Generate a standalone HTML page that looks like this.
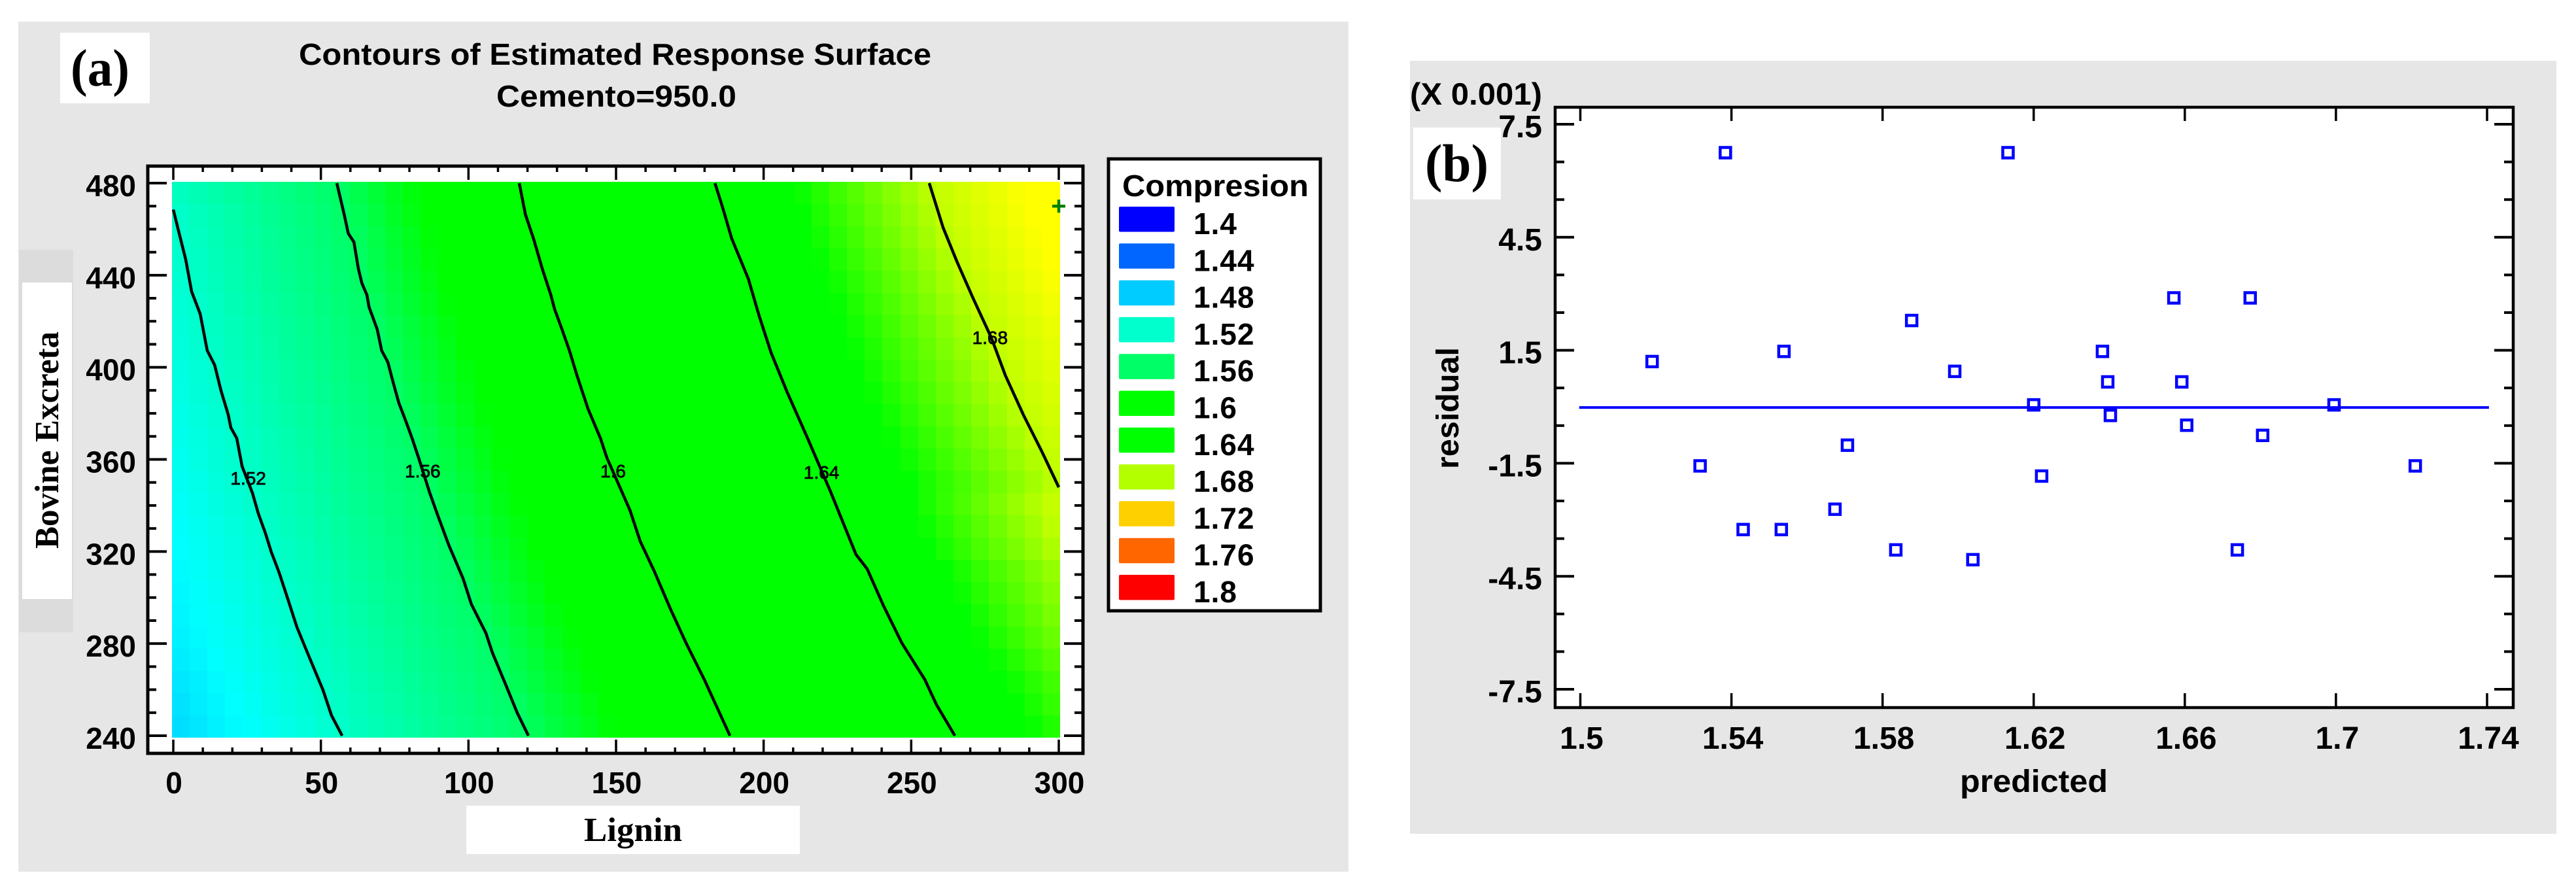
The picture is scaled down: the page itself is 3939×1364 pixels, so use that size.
<!DOCTYPE html>
<html>
<head>
<meta charset="utf-8">
<title>Contours and residual plot</title>
<style>
html,body{margin:0;padding:0;background:#fff;width:3939px;height:1364px;overflow:hidden}
svg{display:block}
text{font-family:"Liberation Sans",Arial,sans-serif;font-weight:bold;fill:#000}
.serif{font-family:"Liberation Serif","Times New Roman",serif}
</style>
</head>
<body>
<svg id="figure" xmlns="http://www.w3.org/2000/svg" width="3939" height="1364" viewBox="0 0 3939 1364">
  <rect x="0" y="0" width="3939" height="1364" fill="#ffffff"/>

  <!-- Panel (a) -->
  <g id="panel-a">
    <rect x="28" y="33" width="2034" height="1300" fill="#e6e6e6"/>
    <rect x="92" y="50" width="137" height="108" fill="#ffffff"/>
    <text class="serif" x="108" y="131" font-size="80" textLength="90" lengthAdjust="spacingAndGlyphs">(a)</text>
    <text x="457" y="99" font-size="46" textLength="967" lengthAdjust="spacingAndGlyphs">Contours of Estimated Response Surface</text>
    <text x="759" y="163" font-size="46" textLength="367" lengthAdjust="spacingAndGlyphs">Cemento=950.0</text>
    <rect x="29" y="382" width="83" height="585" fill="#dcdcdc"/>
    <rect x="34" y="432" width="76" height="484" fill="#ffffff"/>
    <text class="serif" transform="translate(89,839) rotate(-90)" x="0" y="0" font-size="52" textLength="332" lengthAdjust="spacingAndGlyphs">Bovine Excreta</text>
    <rect x="713" y="1232" width="510" height="74" fill="#ffffff"/>
    <text class="serif" x="893" y="1286" font-size="52" textLength="150" lengthAdjust="spacingAndGlyphs">Lignin</text>
    <rect x="226" y="254" width="1430" height="898" fill="#ffffff"/>
    <g id="heatmap" shape-rendering="crispEdges"></g>
    <g id="contours"></g>
    <g id="a-ticks"></g>
    <rect x="226" y="254" width="1430" height="898" fill="none" stroke="#000" stroke-width="5"/>
    <g id="a-labels"></g>
    <g id="legend">
      <rect x="1695" y="243" width="324" height="691" fill="#ffffff" stroke="#000" stroke-width="5"/>
      <text x="1716" y="300" font-size="46" textLength="285" lengthAdjust="spacingAndGlyphs">Compresion</text>
    </g>
  </g>

  <!-- Panel (b) -->
  <g id="panel-b">
    <rect x="2156" y="93" width="1753" height="1182" fill="#e6e6e6"/>
    <rect x="2378" y="164" width="1465" height="918" fill="#ffffff"/>
    <g id="b-ticks"></g>
    <g id="b-zero"></g>
    <g id="b-points"></g>
    <rect x="2378" y="164" width="1465" height="918" fill="none" stroke="#000" stroke-width="4.5"/>
    <g id="b-labels"></g>
    <text x="2156" y="160" font-size="47" textLength="202" lengthAdjust="spacingAndGlyphs">(X 0.001)</text>
    <rect x="2161" y="195" width="134" height="110" fill="#ffffff"/>
    <text class="serif" x="2179" y="277" font-size="82" textLength="97" lengthAdjust="spacingAndGlyphs">(b)</text>
    <text transform="translate(2230,717) rotate(-90)" x="0" y="0" font-size="48" textLength="186" lengthAdjust="spacingAndGlyphs">residual</text>
    <text x="2997" y="1211" font-size="48" textLength="226" lengthAdjust="spacingAndGlyphs">predicted</text>
  </g>
</svg>

<script>
// ---------- Panel (a) data ----------
const ligninTicks = [0, 50, 100, 150, 200, 250, 300];
const bovineTicks = [240, 280, 320, 360, 400, 440, 480];
const contourLevels = [1.52, 1.56, 1.6, 1.64, 1.68];
const contourLabels = ['1.52', '1.56', '1.6', '1.64', '1.68'];
const contourLabelAnchors = [[25.4, 351.9], [84.5, 355], [149, 355], [219.6, 354.4], [276.7, 413]];
const contour152 = [[0,468.5],[2,458.1],[4.2,446.8],[6.2,432.9],[9.1,423.2],[11.5,407.3],[14,401],[16.2,389.7],[18.6,379.5],[19.5,373.8],[21.5,369.2],[23.3,357],[26.8,345.4],[28.8,336.5],[31.2,328],[33.2,319.8],[35.9,310.7],[38.8,299.4],[41.9,287.1],[45.9,274.6],[50.7,259.9],[53.6,248.8],[57.2,240]];
const contour156 = [[55.4,480],[57.8,466.9],[59.3,458.1],[61.2,454.4],[62.7,442.8],[63.9,436.5],[65.6,431.4],[66.3,426.3],[69.1,416.4],[70.6,407.3],[72.7,402.2],[74.5,393.4],[76.4,384.6],[78.7,376.9],[80.9,369.2],[83.1,360.7],[86.9,345.4],[89.7,335.4],[93.3,322.9],[98.2,308.2],[101,297.1],[105.9,284.6],[108.1,276.1],[113,261],[116.5,250],[120.3,240]];
const contour160 = [[117.2,480],[119.3,466.4],[122.1,455.6],[125,442.8],[127.9,431.4],[129.2,425.2],[131.4,417.5],[134.2,407.3],[136.9,395.9],[140.5,382],[144.7,369.2],[146.9,360.7],[150.5,350.2],[154.7,338],[158.2,324.4],[162.9,311.6],[168.3,295.4],[173.7,280.3],[179.9,264.4],[188.6,240]];
const contour164 = [[183.5,480],[186.1,469.5],[189.2,455.9],[194.8,438.5],[198.5,422.3],[202.5,406.4],[208,389.1],[214.9,369.2],[222.7,345.9],[231.3,318.7],[235.1,312.4],[240.6,296.5],[246.8,280.3],[254.6,264.4],[258.6,253.4],[264.8,240]];
const contour168 = [[256.1,480],[260.8,460.7],[265.5,445.9],[271,429.9],[277.2,412.7],[281.9,396.5],[288.1,379.1],[294.3,363.3],[300,347.9]];
const contourSeries = [contour152, contour156, contour160, contour164, contour168];
const legendLevels = ['1.4', '1.44', '1.48', '1.52', '1.56', '1.6', '1.64', '1.68', '1.72', '1.76', '1.8'];
const legendColors = ['#0000ff', '#0066ff', '#00ccff', '#00ffcc', '#00ff66', '#00ff00', '#00ff00', '#b3ff00', '#ffd000', '#ff6600', '#ff0000'];
const colorStopValues = [1.4, 1.44, 1.48, 1.5, 1.52, 1.56, 1.578, 1.654, 1.68, 1.697];
const colorStopRGB = [[0,0,255],[0,102,255],[0,204,255],[0,255,255],[0,255,204],[0,255,102],[0,255,0],[0,255,0],[192,255,0],[255,255,0]];
const designPoint = [300, 470];

// ---------- Panel (b) data ----------
const predictedTicks = [1.5, 1.54, 1.58, 1.62, 1.66, 1.7, 1.74];
const predictedTickLabels = ['1.5', '1.54', '1.58', '1.62', '1.66', '1.7', '1.74'];
const residualTicks = [7.5, 4.5, 1.5, -1.5, -4.5, -7.5];
const residualTickLabels = ['7.5', '4.5', '1.5', '-1.5', '-4.5', '-7.5'];
const predictedValues = [1.5190,1.5384,1.5539,1.5877,1.5991,1.5707,1.6132,1.6571,1.6773,1.6382,1.6396,1.6592,1.62,1.6995,1.6403,1.6605,1.6806,1.5317,1.5431,1.5532,1.5674,1.5835,1.6039,1.6221,1.6739,1.7210];
const residualValues = [1.2,6.745,1.47,2.29,0.94,-1.02,6.745,2.89,2.89,1.47,0.66,0.66,0.05,0.05,-0.23,-0.49,-0.76,-1.57,-3.26,-3.26,-2.72,-3.8,-4.06,-1.84,-3.8,-1.57];
const zeroLine = [[1.4997, -0.02], [1.7405, -0.02]];

// ---------- Helpers ----------
const NS = 'http://www.w3.org/2000/svg';
function make(tag, parent, attrs) {
  const el = document.createElementNS(NS, tag);
  for (const k in attrs) el.setAttribute(k, attrs[k]);
  parent.appendChild(el);
  return el;
}
const aX = v => 265 + (v - 0) * (1619 - 265) / 300;
const aY = v => 280 + (480 - v) * (1125 - 280) / 240;
const bX = v => 2416.5 + (v - 1.5) * (3803 - 2416.5) / 0.24;
const bY = v => 190 + (7.5 - v) * (1054 - 190) / 15;

// ---------- Heatmap ----------
function contourXAt(series, y) {
  for (let i = 0; i < series.length - 1; i++) {
    const a = series[i], b = series[i + 1];
    if (y <= a[1] && y >= b[1]) return a[0] + (b[0] - a[0]) * (a[1] - y) / (a[1] - b[1]);
  }
  return null;
}
function surfaceAt(x, y) {
  const anchors = [];
  contourSeries.forEach((s, i) => {
    const cx = contourXAt(s, y);
    if (cx !== null) anchors.push([cx, contourLevels[i]]);
  });
  let j = 0;
  while (j < anchors.length - 2 && x > anchors[j + 1][0]) j++;
  const a = anchors[j], b = anchors[j + 1];
  return a[1] + (b[1] - a[1]) * (x - a[0]) / (b[0] - a[0]);
}
function surfaceColor(v) {
  if (v <= colorStopValues[0]) return colorStopRGB[0];
  for (let i = 0; i < colorStopValues.length - 1; i++) {
    if (v <= colorStopValues[i + 1]) {
      const t = (v - colorStopValues[i]) / (colorStopValues[i + 1] - colorStopValues[i]);
      return colorStopRGB[i].map((c, k) => Math.round(c + (colorStopRGB[i + 1][k] - c) * t));
    }
  }
  return colorStopRGB[colorStopRGB.length - 1];
}
const heatGroup = document.getElementById('heatmap');
const heatCols = 50, heatRows = 25;
const heatLeft = aX(-0.45), heatRight = aX(300.45), heatTop = aY(480.6), heatBottom = aY(239.2);
for (let r = 0; r < heatRows; r++) {
  const y0 = Math.round(heatTop + (heatBottom - heatTop) * r / heatRows);
  const y1 = Math.round(heatTop + (heatBottom - heatTop) * (r + 1) / heatRows);
  const dataY = 480 - 240 * (r + 0.5) / heatRows;
  for (let c = 0; c < heatCols; c++) {
    const x0 = Math.round(heatLeft + (heatRight - heatLeft) * c / heatCols);
    const x1 = Math.round(heatLeft + (heatRight - heatLeft) * (c + 1) / heatCols);
    const dataX = 300 * (c + 0.5) / heatCols;
    const rgb = surfaceColor(surfaceAt(dataX, dataY));
    const cell = make('rect', heatGroup, {x: x0, y: y0, width: x1 - x0, height: y1 - y0, fill: 'rgb(' + rgb.join(',') + ')'});
    
    
  }
}

// ---------- Contours ----------
const contourGroup = document.getElementById('contours');
contourSeries.forEach((s, i) => {
  const d = s.map((p, k) => (k ? 'L' : 'M') + aX(p[0]).toFixed(1) + ' ' + aY(p[1]).toFixed(1)).join(' ');
  const line = make('path', contourGroup, {d: d, fill: 'none', stroke: '#000', 'stroke-width': 4.5, 'stroke-linejoin': 'round'});
  
  
  const lab = make('text', contourGroup, {x: aX(contourLabelAnchors[i][0]), y: aY(contourLabelAnchors[i][1]) + 10, 'font-size': 28, 'text-anchor': 'middle', style: 'font-weight:normal;stroke:#000;stroke-width:.8'});
  lab.textContent = contourLabels[i];
  
  
});
const plus = make('path', contourGroup, {d: 'M' + (aX(designPoint[0]) - 10) + ' ' + aY(designPoint[1]) + 'h20M' + aX(designPoint[0]) + ' ' + (aY(designPoint[1]) - 10) + 'v20', stroke: '#008000', 'stroke-width': 4.5, fill: 'none'});



// ---------- Panel (a) axes ----------
const aTicks = document.getElementById('a-ticks');
const aLabels = document.getElementById('a-labels');
function addTick(parent, x1, y1, x2, y2, w, name) {
  const t = make('line', parent, {x1: x1, y1: y1, x2: x2, y2: y2, stroke: '#000', 'stroke-width': w});
  
  
}
for (let v = 0; v <= 300; v += 10) {
  const major = v % 50 === 0;
  const len = major ? 21 : 9;
  addTick(aTicks, aX(v), 254, aX(v), 254 + len, 3.5, 'x-tick-top');
  addTick(aTicks, aX(v), 1152, aX(v), 1152 - len, 3.5, 'x-tick-bottom');
}
for (let v = 240; v <= 480; v += 10) {
  const major = v % 40 === 0;
  const len = major ? 29 : 13;
  addTick(aTicks, 226, aY(v), 226 + len, aY(v), 4, 'y-tick-left');
  addTick(aTicks, 1656, aY(v), 1656 - len, aY(v), 4, 'y-tick-right');
}
ligninTicks.forEach(v => {
  const t = make('text', aLabels, {x: aX(v) + 1, y: 1213, 'font-size': 46, 'text-anchor': 'middle'});
  t.textContent = String(v);
  
  
});
bovineTicks.forEach(v => {
  const t = make('text', aLabels, {x: 208, y: aY(v) + 20, 'font-size': 46, 'text-anchor': 'end'});
  t.textContent = String(v);
  
  
});

// ---------- Legend ----------
const legend = document.getElementById('legend');
legendLevels.forEach((lv, i) => {
  const sw = make('rect', legend, {x: 1711, y: 316 + i * 56.3, width: 85, height: 38.5, rx: 2, fill: legendColors[i]});
  
  
  const t = make('text', legend, {x: 1825, y: 358 + i * 56.3, 'font-size': 46, 'letter-spacing': 1});
  t.textContent = lv;
  
  
});

// ---------- Panel (b) axes ----------
const bTicks = document.getElementById('b-ticks');
const bLabels = document.getElementById('b-labels');
predictedTicks.forEach((v, i) => {
  addTick(bTicks, bX(v), 164, bX(v), 185, 3.5, 'x-tick-top');
  addTick(bTicks, bX(v), 1082, bX(v), 1060, 3.5, 'x-tick-bottom');
  const t = make('text', bLabels, {x: bX(v) + 2, y: 1145, 'font-size': 48, 'text-anchor': 'middle'});
  t.textContent = predictedTickLabels[i];
  
  
});
for (let k = -75; k <= 75; k += 10) {
  const v = k / 10;
  const major = (k + 75) % 30 === 0;
  const len = major ? 29 : 14;
  addTick(bTicks, 2378, bY(v), 2378 + len, bY(v), 4, 'y-tick-left');
  addTick(bTicks, 3843, bY(v), 3843 - len, bY(v), 4, 'y-tick-right');
}
residualTicks.forEach((v, i) => {
  const t = make('text', bLabels, {x: 2358, y: bY(v) + 20, 'font-size': 48, 'text-anchor': 'end'});
  t.textContent = residualTickLabels[i];
  
  
});

// ---------- Panel (b) marks ----------
const zero = make('line', document.getElementById('b-zero'), {x1: bX(zeroLine[0][0]), y1: bY(zeroLine[0][1]), x2: bX(zeroLine[1][0]), y2: bY(zeroLine[1][1]), stroke: '#0000ff', 'stroke-width': 4});


const pointGroup = document.getElementById('b-points');
predictedValues.forEach((v, i) => {
  const p = make('rect', pointGroup, {x: bX(v) - 8, y: bY(residualValues[i]) - 8, width: 16, height: 16, fill: 'none', stroke: '#0000ff', 'stroke-width': 4.5});
  
  
});
</script>
</body>
</html>
